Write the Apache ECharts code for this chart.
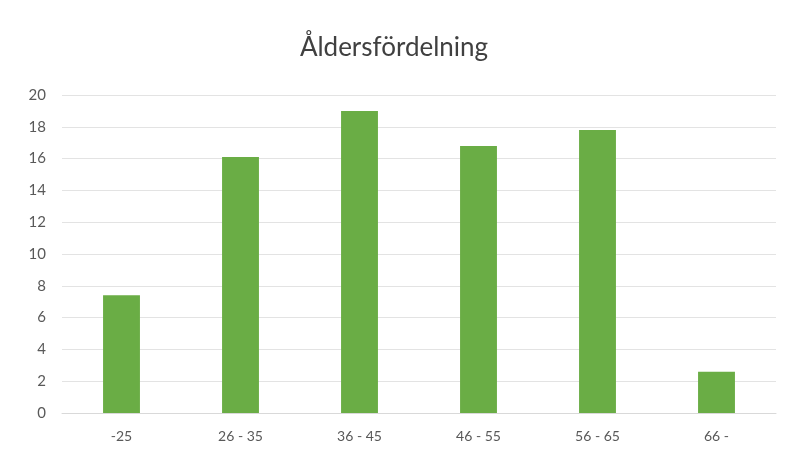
<!DOCTYPE html>
<html>
<head>
<meta charset="utf-8">
<script src="https://cdn.jsdelivr.net/npm/echarts@6/dist/echarts.min.js"></script>
<style>
html, body { margin: 0; padding: 0; background: #fff; }
#chart { width: 788px; height: 456px; }
</style>
</head>
<body>
<div id="chart"></div>
<script>
// Åldersfördelning - stapeldiagram
var categories = ['-25', '26 - 35', '36 - 45', '46 - 55', '56 - 65', '66 -'];
var values = [7.4, 16.1, 19.0, 16.8, 17.8, 2.6];
var yTicks = { min: 0, max: 20, interval: 2 };

var myChart = echarts.init(document.getElementById('chart'));
var option = {
	backgroundColor: '#fff',
	title: {
		text: 'Åldersfördelning',
		left: 'center',
		top: 30,
		textStyle: { fontFamily: 'Lato', fontWeight: 'normal', fontSize: 26, color: '#404040' }
	},
	grid: { left: 62, right: 12, top: 95, bottom: 43 },
	xAxis: {
		type: 'category',
		data: categories,
		axisLine: { lineStyle: { color: '#d9d9d9' } },
		axisTick: { show: false },
		axisLabel: { fontFamily: 'Lato', fontSize: 14, color: '#595959', margin: 16 }
	},
	yAxis: {
		type: 'value',
		min: yTicks.min,
		max: yTicks.max,
		interval: yTicks.interval,
		axisLine: { show: false },
		axisTick: { show: false },
		splitLine: { lineStyle: { color: '#e3e3e3' } },
		axisLabel: { fontFamily: 'Lato', fontSize: 15, color: '#595959', margin: 16 }
	},
	series: [{
		type: 'bar',
		data: values,
		barWidth: '31%',
		itemStyle: { color: '#6aad45' }
	}]
};
myChart.setOption(option);
</script>
</body>
</html>
